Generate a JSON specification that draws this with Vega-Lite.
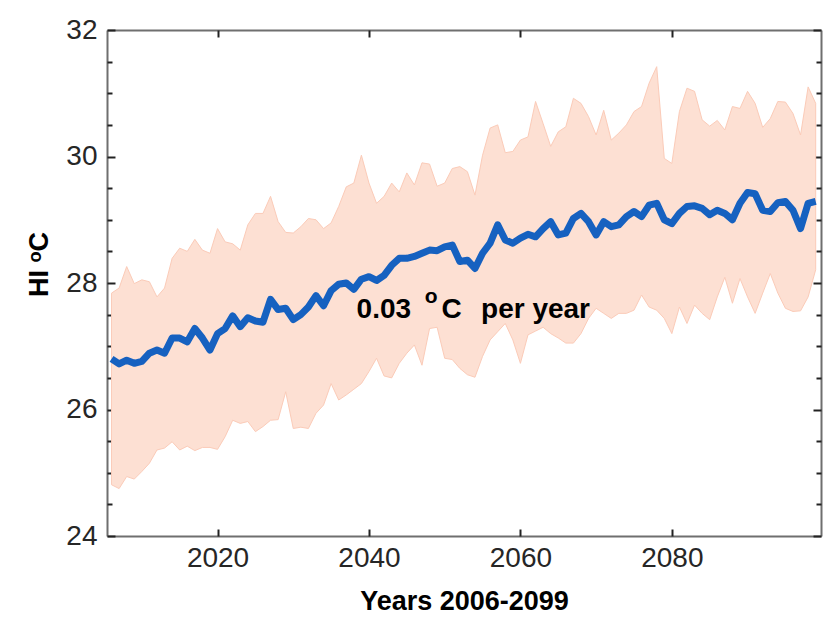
{
  "$schema": "https://vega.github.io/schema/vega-lite/v6.json",
  "width": 714,
  "height": 506,
  "autosize": {"type": "none"},
  "padding": {"left": 107, "top": 30, "right": 18, "bottom": 83},
  "background": "white",
  "config": {
    "view": {"stroke": null},
    "font": "Liberation Sans",
    "axis": {
      "grid": false,
      "zindex": 1,
      "domainColor": "#6f6f6f",
      "domainWidth": 2,
      "tickColor": "#222222",
      "tickWidth": 2,
      "tickOpacity": 1,
      "labelColor": "#262626",
      "labelFont": "Liberation Sans",
      "labelFontSize": 28,
      "titleFont": "Liberation Sans",
      "titleFontSize": 27,
      "titleFontWeight": "bold",
      "titleColor": "#000000"
    }
  },
  "datasets": {
    "hi": [
      {"year": 2006, "mean": 26.80, "hi": 27.84, "lo": 24.81},
      {"year": 2007, "mean": 26.72, "hi": 27.92, "lo": 24.75},
      {"year": 2008, "mean": 26.78, "hi": 28.26, "lo": 24.94},
      {"year": 2009, "mean": 26.73, "hi": 27.99, "lo": 24.90},
      {"year": 2010, "mean": 26.76, "hi": 28.05, "lo": 25.02},
      {"year": 2011, "mean": 26.89, "hi": 28.02, "lo": 25.15},
      {"year": 2012, "mean": 26.94, "hi": 27.78, "lo": 25.36},
      {"year": 2013, "mean": 26.89, "hi": 27.92, "lo": 25.39},
      {"year": 2014, "mean": 27.13, "hi": 28.39, "lo": 25.49},
      {"year": 2015, "mean": 27.13, "hi": 28.55, "lo": 25.36},
      {"year": 2016, "mean": 27.07, "hi": 28.50, "lo": 25.42},
      {"year": 2017, "mean": 27.28, "hi": 28.69, "lo": 25.35},
      {"year": 2018, "mean": 27.13, "hi": 28.52, "lo": 25.40},
      {"year": 2019, "mean": 26.94, "hi": 28.47, "lo": 25.40},
      {"year": 2020, "mean": 27.20, "hi": 28.86, "lo": 25.37},
      {"year": 2021, "mean": 27.28, "hi": 28.65, "lo": 25.57},
      {"year": 2022, "mean": 27.48, "hi": 28.62, "lo": 25.83},
      {"year": 2023, "mean": 27.31, "hi": 28.52, "lo": 25.78},
      {"year": 2024, "mean": 27.45, "hi": 28.92, "lo": 25.81},
      {"year": 2025, "mean": 27.40, "hi": 29.10, "lo": 25.65},
      {"year": 2026, "mean": 27.38, "hi": 29.10, "lo": 25.73},
      {"year": 2027, "mean": 27.74, "hi": 29.37, "lo": 25.83},
      {"year": 2028, "mean": 27.58, "hi": 28.97, "lo": 25.84},
      {"year": 2029, "mean": 27.60, "hi": 28.80, "lo": 26.28},
      {"year": 2030, "mean": 27.42, "hi": 28.79, "lo": 25.70},
      {"year": 2031, "mean": 27.50, "hi": 28.89, "lo": 25.72},
      {"year": 2032, "mean": 27.62, "hi": 29.02, "lo": 25.70},
      {"year": 2033, "mean": 27.80, "hi": 29.00, "lo": 25.94},
      {"year": 2034, "mean": 27.64, "hi": 28.86, "lo": 26.07},
      {"year": 2035, "mean": 27.88, "hi": 28.95, "lo": 26.41},
      {"year": 2036, "mean": 27.98, "hi": 29.21, "lo": 26.15},
      {"year": 2037, "mean": 28.00, "hi": 29.52, "lo": 26.23},
      {"year": 2038, "mean": 27.90, "hi": 29.58, "lo": 26.32},
      {"year": 2039, "mean": 28.06, "hi": 30.02, "lo": 26.41},
      {"year": 2040, "mean": 28.10, "hi": 29.58, "lo": 26.60},
      {"year": 2041, "mean": 28.04, "hi": 29.26, "lo": 26.81},
      {"year": 2042, "mean": 28.12, "hi": 29.37, "lo": 26.53},
      {"year": 2043, "mean": 28.28, "hi": 29.58, "lo": 26.50},
      {"year": 2044, "mean": 28.39, "hi": 29.44, "lo": 26.73},
      {"year": 2045, "mean": 28.39, "hi": 29.74, "lo": 26.89},
      {"year": 2046, "mean": 28.42, "hi": 29.55, "lo": 27.02},
      {"year": 2047, "mean": 28.47, "hi": 29.90, "lo": 26.70},
      {"year": 2048, "mean": 28.52, "hi": 29.88, "lo": 27.28},
      {"year": 2049, "mean": 28.51, "hi": 29.53, "lo": 27.30},
      {"year": 2050, "mean": 28.57, "hi": 29.58, "lo": 26.81},
      {"year": 2051, "mean": 28.60, "hi": 29.81, "lo": 26.79},
      {"year": 2052, "mean": 28.34, "hi": 29.84, "lo": 26.65},
      {"year": 2053, "mean": 28.36, "hi": 29.76, "lo": 26.55},
      {"year": 2054, "mean": 28.23, "hi": 29.39, "lo": 26.51},
      {"year": 2055, "mean": 28.47, "hi": 30.02, "lo": 26.84},
      {"year": 2056, "mean": 28.63, "hi": 30.45, "lo": 27.10},
      {"year": 2057, "mean": 28.92, "hi": 30.50, "lo": 27.23},
      {"year": 2058, "mean": 28.68, "hi": 30.06, "lo": 27.36},
      {"year": 2059, "mean": 28.63, "hi": 30.08, "lo": 27.10},
      {"year": 2060, "mean": 28.71, "hi": 30.26, "lo": 26.73},
      {"year": 2061, "mean": 28.77, "hi": 30.31, "lo": 27.18},
      {"year": 2062, "mean": 28.73, "hi": 30.87, "lo": 27.24},
      {"year": 2063, "mean": 28.86, "hi": 30.52, "lo": 27.30},
      {"year": 2064, "mean": 28.97, "hi": 30.16, "lo": 27.20},
      {"year": 2065, "mean": 28.76, "hi": 30.39, "lo": 27.13},
      {"year": 2066, "mean": 28.79, "hi": 30.47, "lo": 27.05},
      {"year": 2067, "mean": 29.02, "hi": 30.92, "lo": 27.05},
      {"year": 2068, "mean": 29.10, "hi": 30.84, "lo": 27.20},
      {"year": 2069, "mean": 28.97, "hi": 30.63, "lo": 27.44},
      {"year": 2070, "mean": 28.76, "hi": 30.34, "lo": 27.60},
      {"year": 2071, "mean": 28.97, "hi": 30.73, "lo": 27.52},
      {"year": 2072, "mean": 28.89, "hi": 30.26, "lo": 27.44},
      {"year": 2073, "mean": 28.92, "hi": 30.37, "lo": 27.52},
      {"year": 2074, "mean": 29.05, "hi": 30.50, "lo": 27.52},
      {"year": 2075, "mean": 29.13, "hi": 30.71, "lo": 27.57},
      {"year": 2076, "mean": 29.05, "hi": 30.79, "lo": 27.81},
      {"year": 2077, "mean": 29.23, "hi": 31.16, "lo": 27.62},
      {"year": 2078, "mean": 29.26, "hi": 31.42, "lo": 27.57},
      {"year": 2079, "mean": 29.00, "hi": 29.97, "lo": 27.44},
      {"year": 2080, "mean": 28.94, "hi": 29.89, "lo": 27.20},
      {"year": 2081, "mean": 29.10, "hi": 30.71, "lo": 27.62},
      {"year": 2082, "mean": 29.21, "hi": 31.08, "lo": 27.36},
      {"year": 2083, "mean": 29.22, "hi": 31.03, "lo": 27.65},
      {"year": 2084, "mean": 29.18, "hi": 30.58, "lo": 27.52},
      {"year": 2085, "mean": 29.08, "hi": 30.48, "lo": 27.42},
      {"year": 2086, "mean": 29.15, "hi": 30.57, "lo": 27.78},
      {"year": 2087, "mean": 29.10, "hi": 30.42, "lo": 28.09},
      {"year": 2088, "mean": 29.00, "hi": 30.79, "lo": 27.68},
      {"year": 2089, "mean": 29.26, "hi": 30.76, "lo": 28.07},
      {"year": 2090, "mean": 29.43, "hi": 31.03, "lo": 27.78},
      {"year": 2091, "mean": 29.41, "hi": 30.84, "lo": 27.52},
      {"year": 2092, "mean": 29.15, "hi": 30.46, "lo": 27.84},
      {"year": 2093, "mean": 29.13, "hi": 30.60, "lo": 28.15},
      {"year": 2094, "mean": 29.27, "hi": 30.87, "lo": 27.84},
      {"year": 2095, "mean": 29.29, "hi": 30.86, "lo": 27.60},
      {"year": 2096, "mean": 29.15, "hi": 30.68, "lo": 27.55},
      {"year": 2097, "mean": 28.86, "hi": 30.34, "lo": 27.56},
      {"year": 2098, "mean": 29.26, "hi": 31.10, "lo": 27.78},
      {"year": 2099, "mean": 29.29, "hi": 30.84, "lo": 28.21}
    ]
  },
  "layer": [
    {
      "data": {"name": "hi"},
      "mark": {"type": "area", "color": "#fde0d3", "opacity": 1, "stroke": "#fbcbb8", "strokeWidth": 1},
      "encoding": {
        "x": {
          "field": "year", "type": "quantitative",
          "scale": {"domain": [2005.4, 2099.7], "nice": false, "zero": false},
          "axis": {"orient": "bottom", "values": [2020, 2040, 2060, 2080], "format": "d", "ticks": false, "labelPadding": 8, "title": "Years 2006-2099", "titlePadding": 16}
        },
        "y": {
          "field": "lo", "type": "quantitative",
          "scale": {"domain": [24, 32], "nice": false, "zero": false},
          "axis": {
            "orient": "left",
            "values": [24, 26, 28, 30, 32],
            "format": "d",
            "ticks": false,
            "labelPadding": 10,
            "title": "HI ᵒC",
            "titlePadding": 12,
            "titleY": 234
          }
        },
        "y2": {"field": "hi"}
      }
    },
    {
      "data": {"name": "hi"},
      "mark": {"type": "line", "color": "#1661c0", "strokeWidth": 7, "strokeJoin": "round", "strokeCap": "butt"},
      "encoding": {
        "x": {
          "field": "year", "type": "quantitative",
          "scale": {"domain": [2005.4, 2099.7], "nice": false, "zero": false},
          "axis": {"orient": "top", "ticks": false, "labels": false, "title": null}
        },
        "y": {
          "field": "mean", "type": "quantitative",
          "scale": {"domain": [24, 32], "nice": false, "zero": false},
          "axis": {"orient": "right", "ticks": false, "labels": false, "title": null}
        }
      }
    },
    {
      "data": {"values": [{"year": 2038.36, "value": 27.447, "label": "0.03"}]},
      "mark": {"type": "text", "align": "left", "baseline": "alphabetic", "fontSize": 28, "fontWeight": "bold", "color": "#000000", "font": "Liberation Sans"},
      "encoding": {
        "x": {
          "field": "year", "type": "quantitative",
          "scale": {"domain": [2005.4, 2099.7], "nice": false, "zero": false},
          "axis": {"orient": "bottom", "values": [2020, 2040, 2060, 2080], "ticks": true, "domain": false, "labels": false, "tickSize": 7, "offset": -7, "title": null}
        },
        "y": {
          "field": "value", "type": "quantitative",
          "scale": {"domain": [24, 32], "nice": false, "zero": false},
          "axis": {"orient": "left", "values": [24, 26, 28, 30, 32], "ticks": true, "domain": false, "labels": false, "tickSize": 8, "offset": -8, "title": null}
        },
        "text": {"field": "label"}
      }
    },
    {
      "data": {"values": [{"year": 2047.35, "value": 27.68, "label": "o"}]},
      "mark": {"type": "text", "align": "left", "baseline": "alphabetic", "fontSize": 21, "fontWeight": "bold", "color": "#000000", "font": "Liberation Sans"},
      "encoding": {
        "x": {
          "field": "year", "type": "quantitative",
          "scale": {"domain": [2005.4, 2099.7], "nice": false, "zero": false},
          "axis": {"orient": "top", "values": [2020, 2040, 2060, 2080], "ticks": true, "domain": false, "labels": false, "tickSize": 7, "offset": -7, "title": null}
        },
        "y": {
          "field": "value", "type": "quantitative",
          "scale": {"domain": [24, 32], "nice": false, "zero": false},
          "axis": {"orient": "right", "values": [24, 26, 28, 30, 32], "ticks": true, "domain": false, "labels": false, "tickSize": 8, "offset": -8, "title": null}
        },
        "text": {"field": "label"}
      }
    },
    {
      "data": {"values": [{"year": 2049.59, "value": 27.447, "label": "C"}]},
      "mark": {"type": "text", "align": "left", "baseline": "alphabetic", "fontSize": 28, "fontWeight": "bold", "color": "#000000", "font": "Liberation Sans"},
      "encoding": {
        "x": {"field": "year", "type": "quantitative", "scale": {"domain": [2005.4, 2099.7], "nice": false, "zero": false}, "axis": null},
        "y": {
          "field": "value", "type": "quantitative",
          "scale": {"domain": [24, 32], "nice": false, "zero": false},
          "axis": {"orient": "left", "values": [24.5, 25, 25.5, 26.5, 27, 27.5, 28.5, 29, 29.5, 30.5, 31, 31.5], "ticks": true, "domain": false, "labels": false, "tickSize": 5, "offset": -5, "title": null}
        },
        "text": {"field": "label"}
      }
    },
    {
      "data": {"values": [{"year": 2054.8, "value": 27.447, "label": "per year"}]},
      "mark": {"type": "text", "align": "left", "baseline": "alphabetic", "fontSize": 28, "fontWeight": "bold", "color": "#000000", "font": "Liberation Sans"},
      "encoding": {
        "x": {"field": "year", "type": "quantitative", "scale": {"domain": [2005.4, 2099.7], "nice": false, "zero": false}, "axis": null},
        "y": {
          "field": "value", "type": "quantitative",
          "scale": {"domain": [24, 32], "nice": false, "zero": false},
          "axis": {"orient": "right", "values": [24.5, 25, 25.5, 26.5, 27, 27.5, 28.5, 29, 29.5, 30.5, 31, 31.5], "ticks": true, "domain": false, "labels": false, "tickSize": 5, "offset": -5, "title": null}
        },
        "text": {"field": "label"}
      }
    }
  ],
  "resolve": {"axis": {"x": "independent", "y": "independent"}}
}
